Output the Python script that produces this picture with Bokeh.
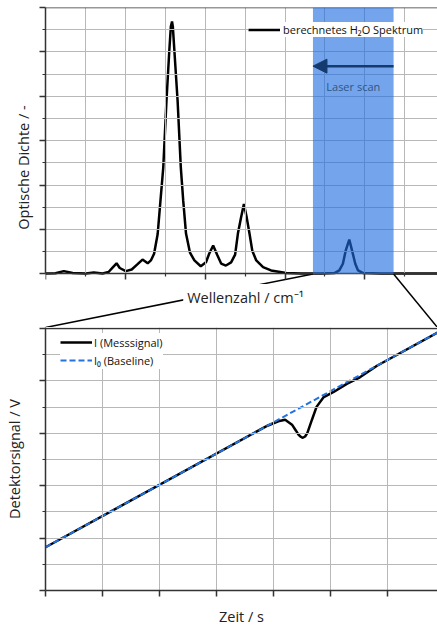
from bokeh.plotting import figure
from bokeh.models import (Range1d, LinearAxis, FixedTicker, BoxAnnotation, Arrow, NormalHead,
                          Label, Legend, LegendItem)
from bokeh.layouts import column
from bokeh.embed import file_html
from bokeh.resources import INLINE

FONT = "Open Sans"

# ---------------- data: calculated H2O spectrum (arbitrary units) ----------------
wavenumber = [0.00, 0.25, 0.46, 0.68, 1.01, 1.21, 1.43, 1.58, 1.68, 1.78,
              1.86, 2.01, 2.16, 2.30, 2.43, 2.56, 2.64, 2.72, 2.81, 2.88,
              2.95, 3.03, 3.10, 3.14, 3.17, 3.19, 3.23, 3.31, 3.39, 3.45,
              3.52, 3.62, 3.73, 3.89, 4.02, 4.10, 4.20, 4.30, 4.40, 4.52,
              4.65, 4.75, 4.82, 4.90, 4.97, 5.04, 5.11, 5.18, 5.28, 5.45,
              5.65, 6.03, 6.41, 6.91, 7.24, 7.36, 7.45, 7.52, 7.61, 7.68,
              7.76, 7.83, 7.96, 8.42, 9.85]
optical_density = [0.02, 0.03, 0.13, 0.04, 0.02, 0.07, 0.02, 0.09, 0.29, 0.48,
                   0.27, 0.13, 0.20, 0.43, 0.65, 0.48, 0.61, 0.91, 1.80, 3.30,
                   4.79, 7.78, 10.02, 11.14, 11.37, 11.14, 10.02, 7.78, 4.79, 3.30,
                   1.82, 0.96, 0.61, 0.35, 0.53, 0.91, 1.28, 0.87, 0.47, 0.38,
                   0.52, 0.87, 1.82, 2.55, 3.15, 2.55, 1.82, 1.05, 0.61, 0.31,
                   0.16, 0.04, 0.02, 0.02, 0.04, 0.16, 0.46, 1.05, 1.55, 1.05,
                   0.46, 0.16, 0.04, 0.02, 0.02]
scan_start, scan_end = 6.70, 8.72          # laser scan window (wavenumber axis)

# ---------------- data: detector signal ----------------
time_s = [0.00, 3.76, 3.90, 4.08, 4.20, 4.32, 4.39, 4.43, 4.47, 4.51,
          4.55, 4.59, 4.67, 4.75, 4.87, 5.05, 5.28, 5.51, 5.81, 6.88]
signal_I = [1.65, 6.14, 6.30, 6.46, 6.52, 6.33, 6.10, 5.96, 5.87, 5.83,
            5.88, 6.02, 6.52, 7.01, 7.37, 7.58, 7.89, 8.14, 8.58, 9.86]
baseline_t = [0.00, 6.88]
baseline_I0 = [1.65, 9.86]

top_x_ticks = [0, 2, 4, 6, 8]
top_x_minor = [1, 3, 5, 7, 9]
top_y_ticks = [0, 2, 4, 6, 8, 10, 12]
top_y_minor = [1, 3, 5, 7, 9, 11]
bot_x_ticks = [0, 1, 2, 3, 4, 5, 6]
bot_y_ticks = [0, 2, 4, 6, 8, 10]
bot_y_minor = [1, 3, 5, 7, 9]

AX = "#333333"
GRID = "#b8b8b8"
BAND = "#1e6ee1"
NAVY = "#143a6e"
DASH_BLUE = "#2272e0"


def style_axis(ax, standoff=5):
    ax.axis_line_color = AX
    ax.axis_line_width = 1.5
    ax.major_tick_line_color = AX
    ax.major_tick_line_width = 1.5
    ax.minor_tick_line_color = AX
    ax.minor_tick_line_width = 1.2
    ax.major_tick_in = 0
    ax.major_tick_out = 6
    ax.minor_tick_in = 0
    ax.minor_tick_out = 3
    ax.major_label_text_font_size = "0px"
    ax.major_label_text_color = None
    ax.major_label_standoff = 0
    ax.axis_label_text_font = FONT
    ax.axis_label_text_font_size = "14.5px"
    ax.axis_label_text_font_style = "normal"
    ax.axis_label_text_color = "#222222"
    ax.axis_label_standoff = standoff


def style_grid(g):
    g.level = "glyph"
    g.grid_line_color = GRID
    g.grid_line_alpha = 1.0
    g.grid_line_width = 1
    g.minor_grid_line_color = GRID
    g.minor_grid_line_alpha = 1.0
    g.minor_grid_line_width = 1


# ================= top panel =================
p1 = figure(width=437, height=327, x_range=Range1d(0, 9.82), y_range=Range1d(-2.41, 12),
            output_backend="svg", toolbar_location=None,
            min_border_left=45, min_border_right=0, min_border_top=7, min_border_bottom=0,
            outline_line_color=None, background_fill_color="white", border_fill_color="white")

xax1 = p1.xaxis[0]
xax1.ticker = FixedTicker(ticks=top_x_ticks, minor_ticks=top_x_minor)
xax1.fixed_location = 0
style_axis(xax1)

yax1 = p1.yaxis[0]
yax1.ticker = FixedTicker(ticks=top_y_ticks, minor_ticks=top_y_minor)
yax1.bounds = (0, 12)
yax1.axis_label = "Optische Dichte / -"
style_axis(yax1, standoff=7)

style_grid(p1.xgrid[0])
style_grid(p1.ygrid[0])
p1.xgrid[0].cross_bounds = (0, 12)

topax1 = LinearAxis(fixed_location=12, ticker=FixedTicker(ticks=[]))
style_axis(topax1)
p1.add_layout(topax1, "above")

spec = p1.line(wavenumber, optical_density, line_color="black", line_width=2.5)

# connecting lines to the lower panel
p1.segment(x0=[scan_start, scan_end], y0=[0, 0],
           x1=[p1.x_range.start, p1.x_range.end], y1=[p1.y_range.start, p1.y_range.start],
           line_color="black", line_width=1.5)

band = BoxAnnotation(left=scan_start, right=scan_end, bottom=0,
                     fill_color=BAND, fill_alpha=0.62, line_color=None)
p1.add_layout(band)

p1.add_layout(Arrow(x_start=scan_end, y_start=9.36, x_end=scan_start, y_end=9.36,
                    line_color=NAVY, line_width=2.5,
                    end=NormalHead(size=14, fill_color=NAVY, line_color=NAVY, line_width=1)))
p1.add_layout(Label(x=(scan_start + scan_end) / 2, y=8.44, text="Laser scan",
                    text_align="center", text_baseline="middle", text_font=FONT,
                    text_font_size="11px", text_color="#2f5687"))
p1.add_layout(Label(x=5.01, y=-1.06, text="Wellenzahl / cm⁻¹",
                    text_align="center", text_baseline="middle", text_font=FONT,
                    text_font_size="14.5px", text_color="#222222",
                    background_fill_color="white", padding=4))

leg1 = Legend(items=[LegendItem(label="berechnetes H₂O Spektrum", renderers=[spec])],
              location=(203, 290), background_fill_color="white", background_fill_alpha=1,
              border_line_color=None, padding=4, spacing=0, margin=0,
              glyph_width=32, glyph_height=15, label_height=15, label_standoff=3,
              label_text_font=FONT, label_text_font_size="11px", label_text_color="#111111")
p1.add_layout(leg1, "center")

# ================= bottom panel =================
p2 = figure(width=437, height=301, x_range=Range1d(0, 6.87), y_range=Range1d(0, 10.04),
            output_backend="svg", toolbar_location=None,
            min_border_left=45, min_border_right=0, min_border_top=0, min_border_bottom=34,
            outline_line_color=None, background_fill_color="white", border_fill_color="white")

xax2 = p2.xaxis[0]
xax2.ticker = FixedTicker(ticks=bot_x_ticks)
xax2.axis_label = "Zeit / s"
style_axis(xax2, standoff=10)

yax2 = p2.yaxis[0]
yax2.ticker = FixedTicker(ticks=bot_y_ticks, minor_ticks=bot_y_minor)
yax2.axis_label = "Detektorsignal / V"
style_axis(yax2, standoff=16)

style_grid(p2.xgrid[0])
style_grid(p2.ygrid[0])

topax2 = LinearAxis(fixed_location=10, ticker=FixedTicker(ticks=[]))
style_axis(topax2)
p2.add_layout(topax2, "above")

meas = p2.line(time_s, signal_I, line_color="black", line_width=2.5)
base = p2.line(baseline_t, baseline_I0, line_color=DASH_BLUE, line_width=2, line_dash="6 3")

leg2 = Legend(items=[LegendItem(label="I (Messsignal)", renderers=[meas]),
                     LegendItem(label="I₀ (Baseline)", renderers=[base])],
              location=(15, 221), background_fill_color="white", background_fill_alpha=1,
              border_line_color=None, padding=3, spacing=0, margin=0,
              glyph_width=32, glyph_height=18, label_height=18, label_standoff=2,
              label_text_font=FONT, label_text_font_size="11px", label_text_color="#111111")
p2.add_layout(leg2, "center")

layout = column(p1, p2, spacing=0)
open("out.html", "w").write(file_html(layout, INLINE))
